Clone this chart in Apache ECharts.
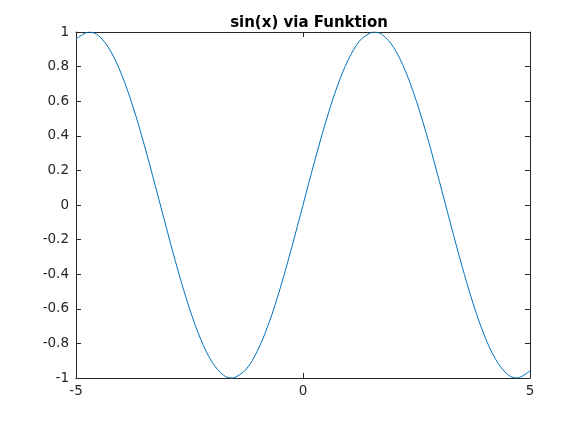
<!DOCTYPE html>
<html>
<head>
<meta charset="utf-8">
<script src="https://cdn.jsdelivr.net/npm/echarts@6/dist/echarts.min.js"></script>
<style>html,body{margin:0;padding:0;background:#fff}#c{width:587px;height:426px}</style>
</head>
<body>
<div id="c"></div>
<script>
var titleText = 'sin(x) via Funktion';
var xValues = [-5,-4.75,-4.71,-4.5,-4.25,-4,-3.75,-3.5,-3.25,-3,-2.75,-2.5,-2.25,-2,-1.75,-1.57,-1.5,-1.25,-1,-0.75,-0.5,-0.25,0,0.25,0.5,0.75,1,1.25,1.5,1.57,1.75,2,2.25,2.5,2.75,3,3.25,3.5,3.75,4,4.25,4.5,4.71,4.75,5];
var yValues = [0.959,0.999,1.0,0.978,0.895,0.757,0.572,0.351,0.108,-0.141,-0.382,-0.598,-0.778,-0.909,-0.984,-1.0,-0.997,-0.949,-0.841,-0.682,-0.479,-0.247,0,0.247,0.479,0.682,0.841,0.949,0.997,1.0,0.984,0.909,0.778,0.598,0.382,0.141,-0.108,-0.351,-0.572,-0.757,-0.895,-0.978,-1.0,-0.999,-0.959];
var xTickLabels = ['-5','0','5'];
var yTickLabels = ['-1','-0.8','-0.6','-0.4','-0.2','0','0.2','0.4','0.6','0.8','1'];

var data = xValues.map(function(x,i){return [x,yValues[i]];});
var axisCol = '#262626';
var font = 'DejaVu Sans';
function fmt(list){ return function(v){ var r = Math.round(v*10)/10; var s = String(r); return list.indexOf(s)>=0 ? s : ''; }; }
function line(){ return {show:true,onZero:false,lineStyle:{color:axisCol,width:1}}; }
function tick(){ return {show:true,inside:true,length:5,lineStyle:{color:axisCol}}; }

var chart = echarts.init(document.getElementById('c'), null, {renderer:'canvas'});
chart.setOption({
  animation:false,
  backgroundColor:'#fff',
  title:{text:titleText,left:304,textAlign:'center',top:11,textStyle:{fontFamily:font,fontSize:15,fontWeight:'bold',color:'#000'}},
  grid:{left:76,top:32,right:57,bottom:48,containLabel:false},
  xAxis:[
    {type:'value',min:-5,max:5,interval:5,position:'bottom',
     axisLine:line(),axisTick:tick(),
     axisLabel:{formatter:fmt(xTickLabels),fontFamily:font,fontSize:13.5,color:axisCol,margin:6},
     splitLine:{show:false}},
    {type:'value',min:-5,max:5,interval:5,position:'top',
     axisLine:line(),axisTick:tick(),
     axisLabel:{show:false},splitLine:{show:false}}
  ],
  yAxis:[
    {type:'value',min:-1,max:1,interval:0.2,position:'left',
     axisLine:line(),axisTick:tick(),
     axisLabel:{formatter:fmt(yTickLabels),fontFamily:font,fontSize:13.5,color:axisCol,margin:7},
     splitLine:{show:false}},
    {type:'value',min:-1,max:1,interval:0.2,position:'right',
     axisLine:line(),axisTick:tick(),
     axisLabel:{show:false},splitLine:{show:false}}
  ],
  series:[{type:'line',xAxisIndex:0,yAxisIndex:0,data:data,smooth:0.35,showSymbol:false,symbol:'none',clip:true,
    lineStyle:{color:'#0072BD',width:1}}]
});
</script>
</body>
</html>
